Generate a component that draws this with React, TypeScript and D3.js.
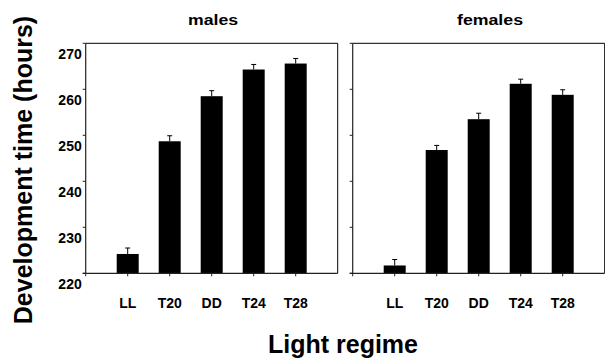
import { useEffect, useRef } from "react";
import * as d3 from "d3";

const categories = ["LL", "T20", "DD", "T24", "T28"];
const malesMean = [224.2, 248.7, 258.5, 264.3, 265.6];
const malesErr = [1.3, 1.2, 1.2, 1.1, 1.1];
const femalesMean = [221.7, 246.8, 253.5, 261.2, 258.8];
const femalesErr = [1.3, 1.0, 1.3, 1.0, 1.1];
const yTicks = [220, 230, 240, 250, 260, 270];
const panelTitles = ["males", "females"];

const FONT = "'Liberation Sans', Arial, Helvetica, sans-serif";

export default function App() {
  const svgRef = useRef(null);
  const width = 605;
  const height = 358;

  useEffect(() => {
    const svg = d3.select(svgRef.current);
    svg.selectAll("*").remove();

    const top = 43.3;
    const bottom = 273.3;
    const panelW = 252;
    const panels = [
      { x0: 85.7, title: panelTitles[0], titleX: 213, titleW: 50, means: malesMean, errs: malesErr, labels: true },
      { x0: 352.7, title: panelTitles[1], titleX: 490, titleW: 66, means: femalesMean, errs: femalesErr, labels: false },
    ];

    const yScale = d3.scaleLinear().domain([220, 270]).range([bottom, top]);
    const xScale = d3.scalePoint().domain(categories).range([0, panelW]).padding(1);
    const barW = 22;

    panels.forEach((p) => {
      const g = svg.append("g").attr("transform", `translate(${p.x0},0)`);

      // bars
      g.selectAll("rect.bar")
        .data(p.means)
        .join("rect")
        .attr("x", (d, i) => xScale(categories[i]) - barW / 2)
        .attr("y", (d) => yScale(d))
        .attr("width", barW)
        .attr("height", (d) => yScale(220) - yScale(d))
        .attr("fill", "#000");

      // error bars (upper only)
      p.means.forEach((m, i) => {
        const cx = xScale(categories[i]);
        g.append("line")
          .attr("x1", cx).attr("x2", cx)
          .attr("y1", yScale(m)).attr("y2", yScale(m + p.errs[i]))
          .attr("stroke", "#000").attr("stroke-width", 1);
        g.append("line")
          .attr("x1", cx - 2.5).attr("x2", cx + 2.5)
          .attr("y1", yScale(m + p.errs[i])).attr("y2", yScale(m + p.errs[i]))
          .attr("stroke", "#000").attr("stroke-width", 1);
      });

      // frame: top + right
      g.append("line").attr("x1", 0).attr("x2", panelW).attr("y1", top).attr("y2", top)
        .attr("stroke", "#000").attr("stroke-width", 1);
      g.append("line").attr("x1", panelW).attr("x2", panelW).attr("y1", top).attr("y2", bottom)
        .attr("stroke", "#000").attr("stroke-width", 1);

      // y axis
      g.append("line").attr("x1", 0).attr("x2", 0).attr("y1", top).attr("y2", bottom)
        .attr("stroke", "#222").attr("stroke-width", 1.2);
      g.selectAll("line.ytick")
        .data(yTicks)
        .join("line")
        .attr("x1", -3).attr("x2", 0)
        .attr("y1", (d) => yScale(d)).attr("y2", (d) => yScale(d))
        .attr("stroke", "#222");
      if (p.labels) {
        g.selectAll("text.ylab")
          .data(yTicks)
          .join("text")
          .attr("x", -4)
          .attr("y", (d) => yScale(d) + 16)
          .attr("text-anchor", "end")
          .style("font-family", FONT)
          .style("font-weight", "bold")
          .style("font-size", "14px")
          .text((d) => d);
      }

      // x axis
      g.append("line").attr("x1", -3).attr("x2", panelW).attr("y1", bottom).attr("y2", bottom)
        .attr("stroke", "#222").attr("stroke-width", 1.2);
      g.selectAll("line.xtick")
        .data(categories)
        .join("line")
        .attr("x1", (d) => xScale(d)).attr("x2", (d) => xScale(d))
        .attr("y1", bottom).attr("y2", bottom + 3)
        .attr("stroke", "#222");
      g.append("line").attr("x1", 0).attr("x2", 0).attr("y1", bottom).attr("y2", bottom + 3)
        .attr("stroke", "#222");
      g.selectAll("text.xlab")
        .data(categories)
        .join("text")
        .attr("x", (d) => xScale(d))
        .attr("y", 308.3)
        .attr("text-anchor", "middle")
        .style("font-family", FONT)
        .style("font-weight", "bold")
        .style("font-size", "14px")
        .text((d) => d);

      // panel title
      svg.append("text")
        .attr("x", p.titleX)
        .attr("y", 25)
        .attr("text-anchor", "middle")
        .attr("textLength", p.titleW)
        .attr("lengthAdjust", "spacingAndGlyphs")
        .style("font-family", FONT)
        .style("font-weight", "bold")
        .style("font-size", "14px")
        .text(p.title);
    });

    // Y axis title
    svg.append("text")
      .attr("transform", "translate(32,170) rotate(-90)")
      .attr("text-anchor", "middle")
      .style("font-family", FONT)
      .style("font-weight", "bold")
      .style("font-size", "25px")
      .text("Development time (hours)");

    // X axis title
    svg.append("text")
      .attr("x", 343)
      .attr("y", 353)
      .attr("text-anchor", "middle")
      .style("font-family", FONT)
      .style("font-weight", "bold")
      .style("font-size", "25px")
      .text("Light regime");
  }, []);

  return (
    <svg
      ref={svgRef}
      width={width}
      height={height}
      style={{ position: "absolute", left: 0, top: 0, background: "#fff" }}
    />
  );
}
